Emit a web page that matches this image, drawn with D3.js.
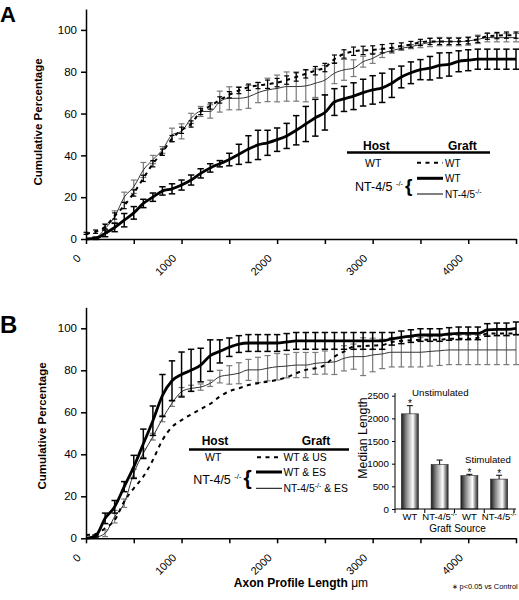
<!DOCTYPE html>
<html><head><meta charset="utf-8">
<script src="https://cdn.jsdelivr.net/npm/d3@7/dist/d3.min.js"></script>
<style>
body{margin:0;background:#fff}
svg{display:block;background:#fff}
text{font-family:"Liberation Sans",Arial,Helvetica,sans-serif;fill:#000}
</style>
</head><body>
<svg id="c" width="519" height="600"></svg>
<script>
// ---------- DATA ----------
const lengths = [0,100,200,300,400,500,600,700,800,900,1000,1100,1200,1300,1400,1500,1600,1700,1800,1900,
  2000,2100,2200,2300,2400,2500,2600,2700,2800,2900,3000,3100,3200,3300,3400,3500,3600,3700,3800,3900,
  4000,4100,4200,4300,4400,4500];
const xTickValues = [0,500,1000,1500,2000,2500,3000,3500,4000,4500];
const xTickLabels = ["0","","1000","","2000","","3000","","4000",""];
const yTickValues = [0,20,40,60,80,100];

// Panel A
const aWTinWT = [2.7,3.5,5.9,11,16,22,29,36,41.5,48,52,55,61,63.6,66.5,69,71,72.6,73.4,74,
  74.8,76,77.5,79,80.5,82,86,88.5,89.8,90.2,90.4,91,91.5,92.3,93,94,94.5,94.5,94.5,94.5,
  94.8,95.5,97,97.3,97.5,97.5];
const aWTinWTErr = [0.5,0.8,1,1.5,1.5,1.5,1.5,1.5,1.5,1.5,1.5,1.5,1.5,1.5,1.5,1.5,1.5,1.5,1.5,2,
  2,2,2,2,2,2,2,2,2,2,2,2,2,1.5,1.5,1.5,1.5,1.5,1.5,1.5,1.5,1.5,1.5,1.5,1.5,1.5];
const aWTinNT = [0,0.3,2.7,5.5,9,12.5,17,20,23,24,25.8,28.2,31.4,34,36,38,40.5,43,45,46,
  47.5,49.3,52,55,58,60.5,65.5,67,68.3,70,71.3,72.3,74.5,77.5,79.5,81,81.7,83,83.5,85,
  85.5,86,86,86,86,86];
const aWTinNTErr = [0,0.5,1.6,2,3.2,3,2,2,2,2.4,2.4,2.4,2.2,2,1.5,3,4.8,6.4,7,6,
  5.6,6,7,8.4,8.8,8.4,6.4,6,6.4,6.4,6.8,7,6.8,5.2,5.2,4.8,5.6,6,5.6,5,
  5,4.8,4.8,4.8,4.8,4.8];
const aNTinNT = [0,0.6,5,10.7,20,25,33,38,42.6,49.8,51.5,57.7,61,61,65.7,67.3,67.3,68,70,71.3,
  72,72.9,72.9,73.2,74.5,76,79.3,80.9,81.7,84.8,86.4,88.8,90.1,91.2,92,93,94,94.4,94.4,94.4,
  94.7,95.5,96.3,96.3,96.3,96.3];
const aNTinNTErr = [0,0.5,2.4,2.8,2.4,3.2,3.6,2,1.6,3.2,3.6,2.4,2.4,3.2,5,5.5,5.5,5.5,4.8,5.6,
  6.4,7,7,7.6,6.8,7,5,5,4,2.6,2.4,2,1.2,1,1,1.5,2,2,2,2,
  2,2,2,2,2,2];

// Panel B
const bWTUS = [1.6,2,4.8,8.7,17.5,23.8,29.4,37.3,46.8,53,56.3,59,61.5,64,67.5,70,71.4,73,73.8,74.6,
  75.4,76.7,78.6,80.2,81,82.5,86.5,88.9,91.3,91.5,91.8,92,93.5,94,94.3,94.5,94.5,94.5,95,95,
  95,95.5,97.5,97.5,97.5,97.6];
const bWTES = [0,1.1,9.5,15,24.6,34,45,56,68,75,78,80,82.5,87,89,91,92.5,93,93,93,
  93,93.5,94,94,94,94,94,94,94,94,94,94,95,95.7,96.3,96.8,96.8,96.8,97.3,97.6,
  97.6,97.6,99.2,99.5,99.5,100];
const bWTESErr = [0,0.5,2.5,3,2.4,5.5,7,7,10,9.5,10.7,10,8,7.5,5.5,4.4,4,4,4,4,
  4,4,4,4,4,4,4,4,4,4,4,4,3,3,3,3,3,3,3,3,3,3,3,3,3,3];
const bNTES = [0,0.5,2.4,10.3,16.7,31,40.5,48.4,57,64.3,69.8,71.4,72,73.8,77,77.8,78.6,80.2,80.2,81,
  81.7,82,82.5,82.5,83.3,83.7,84,85.7,86.5,86.5,87.3,87.8,88.6,88.6,88.6,88.6,89,89.3,89.7,89.7,
  89.7,89.7,89.7,89.7,89.7,89.7];
const bNTESErr = [0,0.5,1.6,3,2,2,2,1.6,1.5,1.5,2,1.5,1.5,1.5,3,4.4,5,5,6,6,
  6.3,5.6,6,6,5.2,5.5,6,6,6,9,8,7,7,7,7,7,7,7,7,7,7,7,7,7,7,7];

// Inset
const insetCats = ["WT","NT-4/5","WT","NT-4/5"];
const insetSup = ["","-/-","","-/-"];
const insetValues = [2100,980,735,660];
const insetErr = [180,100,30,85];
const insetSig = [true,false,true,true];
const insetTicks = [0,500,1000,1500,2000,2500];

// ---------- DRAW ----------
const svg = d3.select("#c");
const defs = svg.append("defs");
const grad = defs.append("linearGradient").attr("id","cyl").attr("x1","0").attr("x2","1").attr("y1","0").attr("y2","0");
[["0%","#1a1a1a"],["30%","#8c8c8c"],["68%","#ffffff"],["100%","#262626"]].forEach(s=>
  grad.append("stop").attr("offset",s[0]).attr("stop-color",s[1]));

const xS = d3.scaleLinear().domain([0,4500]).range([86,516]);

function errorBars(g, y, vals, errs, color, w, cap){
  const eg = g.append("g").attr("stroke",color).attr("stroke-width",w).attr("fill","none");
  lengths.forEach((L,i)=>{
    const e = errs[i]; if(!e) return;
    const x = xS(L), y1 = y(vals[i]-e), y2 = y(vals[i]+e);
    eg.append("line").attr("x1",x).attr("x2",x).attr("y1",y1).attr("y2",y2);
    eg.append("line").attr("x1",x-cap).attr("x2",x+cap).attr("y1",y1).attr("y2",y1);
    eg.append("line").attr("x1",x-cap).attr("x2",x+cap).attr("y1",y2).attr("y2",y2);
  });
}
function curve(g, y, vals, color, w, dash){
  const line = d3.line().x((d,i)=>xS(lengths[i])).y(d=>y(d)).curve(d3.curveMonotoneX);
  const p = g.append("path").datum(vals).attr("d",line).attr("fill","none")
    .attr("stroke",color).attr("stroke-width",w).attr("stroke-linejoin","round");
  if(dash) p.attr("stroke-dasharray",dash);
}
function axes(g, y, y0){
  const ya = g.append("g").attr("transform","translate(86,0)")
    .call(d3.axisLeft(y).tickValues(yTickValues).tickSize(5).tickSizeOuter(0).tickPadding(4));
  ya.selectAll("text").attr("font-size","11.5px").attr("font-family",null);
  const xa = g.append("g").attr("transform",`translate(0,${y0})`)
    .call(d3.axisBottom(xS).tickValues(xTickValues).tickSize(5).tickSizeOuter(0)
      .tickFormat((d,i)=>xTickLabels[i]));
  xa.selectAll("text").attr("font-size","11px").attr("font-family",null)
    .attr("x",0).attr("y",0).attr("dy",0).attr("text-anchor","end")
    .attr("transform","translate(-5,20) rotate(-45)");
  [ya,xa].forEach(a=>{a.selectAll("path,line").attr("stroke","#000").attr("stroke-width",1.5);});
}
function txt(g, x, y, parts, size, opts={}){
  const t = g.append("text").attr("x",x).attr("y",y).attr("font-size",size+"px");
  if(opts.bold) t.attr("font-weight","bold");
  if(opts.anchor) t.attr("text-anchor",opts.anchor);
  if(opts.transform) t.attr("transform",opts.transform);
  let up = false;
  parts.forEach(p=>{
    if(typeof p === "string"){
      const s = t.append("tspan").text(p);
      if(up){ s.attr("dy", size*0.38); up=false; }
    } else {
      t.append("tspan").text(p.sup).attr("font-size",(p.size||size*0.65)+"px").attr("dy",-size*0.38);
      up = true;
    }
  });
  return t;
}
function hline(g,x1,x2,y,w,dash){
  const l = g.append("line").attr("x1",x1).attr("x2",x2).attr("y1",y).attr("y2",y)
    .attr("stroke","#000").attr("stroke-width",w);
  if(dash) l.attr("stroke-dasharray",dash);
}

// ---- Panel A ----
const yA = d3.scaleLinear().domain([0,110]).range([239,9]);
const gA = svg.append("g");
errorBars(gA, yA, aNTinNT, aNTinNTErr, "#7a7a7a", 1.2, 3);
curve(gA, yA, aNTinNT, "#333", 1);
errorBars(gA, yA, aWTinWT, aWTinWTErr, "#000", 1.2, 2.5);
curve(gA, yA, aWTinWT, "#000", 2, "4,4.5");
errorBars(gA, yA, aWTinNT, aWTinNTErr, "#000", 1.5, 3.2);
curve(gA, yA, aWTinNT, "#000", 2.8);
axes(gA, yA, 239);
txt(gA, 0, 22, ["A"], 22, {bold:true});
txt(gA, 0, 0, ["Cumulative Percentage"], 11.5, {bold:true, anchor:"middle", transform:"translate(42,122) rotate(-90)"});
// legend A
txt(gA, 363, 150, ["Host"], 12, {bold:true});
txt(gA, 448, 150, ["Graft"], 12, {bold:true});
hline(gA, 347, 490, 152.5, 2.5);
txt(gA, 365, 166.5, ["WT"], 10.5);
hline(gA, 417, 443, 162.7, 2, "4,4.5");
txt(gA, 445, 166.5, ["WT"], 10);
txt(gA, 355, 190.5, ["NT-4/5 ",{sup:"-/-",size:7.5}], 12.5);
txt(gA, 405, 192, ["{"], 19, {bold:true});
hline(gA, 417, 443, 178.3, 3);
txt(gA, 445, 182, ["WT"], 10);
hline(gA, 417, 443, 194, 1);
txt(gA, 445, 197.5, ["NT-4/5",{sup:"-/-",size:7}], 10);

// ---- Panel B ----
const yB = d3.scaleLinear().domain([0,110]).range([538.3,307.3]);
const gB = svg.append("g");
errorBars(gB, yB, bNTES, bNTESErr, "#7a7a7a", 1.2, 3);
curve(gB, yB, bNTES, "#333", 1);
curve(gB, yB, bWTUS, "#000", 2, "4,4.5");
errorBars(gB, yB, bWTES, bWTESErr, "#000", 1.5, 3.2);
curve(gB, yB, bWTES, "#000", 2.8);
axes(gB, yB, 538.3);
txt(gB, 0, 333, ["B"], 24, {bold:true});
txt(gB, 0, 0, ["Cumulative Percentage"], 11.5, {bold:true, anchor:"middle", transform:"translate(46,426) rotate(-90)"});
const axT = gB.append("text").attr("x",301).attr("y",587).attr("text-anchor","middle").attr("font-size","12px");
axT.append("tspan").attr("font-weight","bold").text("Axon Profile Length ");
axT.append("tspan").text("\u03BCm");
txt(gB, 451.5, 588.5, ["\u2217 p<0.05 vs Control"], 7.4);
// legend B
txt(gB, 201.7, 445, ["Host"], 12, {bold:true});
txt(gB, 301.7, 445, ["Graft"], 12, {bold:true});
hline(gB, 189, 349, 449.5, 2.5);
txt(gB, 205, 461, ["WT"], 10.5);
hline(gB, 257, 282, 457.3, 2, "4,4.5");
txt(gB, 283.5, 461, ["WT & US"], 10.4);
txt(gB, 193.3, 484, ["NT-4/5 ",{sup:"-/-",size:7.5}], 12.5);
txt(gB, 243.5, 484.5, ["{"], 21, {bold:true});
hline(gB, 256, 282, 472, 3);
txt(gB, 283.5, 475.5, ["WT & ES"], 10.4);
hline(gB, 256, 282, 488.3, 1);
txt(gB, 283.5, 491.5, ["NT-4/5",{sup:"-/-",size:7}," & ES"], 10.4);

// ---- Inset bar chart ----
const gI = svg.append("g");
const yI = d3.scaleLinear().domain([0,2500]).range([509,395.7]);
const xI = d3.scaleBand().domain(d3.range(insetCats.length)).range([395,514]).padding(0);
const bw = 17;
insetValues.forEach((v,i)=>{
  const cx = xI(i) + xI.bandwidth()/2;
  gI.append("rect").attr("x",cx-bw/2).attr("y",yI(v)).attr("width",bw).attr("height",yI(0)-yI(v))
    .attr("fill","url(#cyl)").attr("stroke","#222").attr("stroke-width",0.6);
  const top = yI(v+insetErr[i]);
  gI.append("line").attr("x1",cx).attr("x2",cx).attr("y1",yI(v)).attr("y2",top).attr("stroke","#000").attr("stroke-width",1);
  gI.append("line").attr("x1",cx-3).attr("x2",cx+3).attr("y1",top).attr("y2",top).attr("stroke","#000").attr("stroke-width",1);
  if(insetSig[i]) txt(gI, cx, top+1.8, ["*"], 10, {anchor:"middle"});
  txt(gI, cx, 520, [insetCats[i]].concat(insetSup[i]?[{sup:insetSup[i],size:6.5}]:[]), 9.5, {anchor:"middle"});
});
const yIa = gI.append("g").attr("transform","translate(395,0)")
  .call(d3.axisLeft(yI).tickValues(insetTicks).tickSize(3).tickSizeOuter(0).tickPadding(3).tickFormat(d3.format("d")));
yIa.selectAll("text").attr("font-size","9.8px").attr("font-family",null);
yIa.select(".domain").attr("d","M0,"+yI(0)+"V393");
yIa.selectAll("path,line").attr("stroke","#000").attr("stroke-width",1);
const xIa = gI.append("g").attr("transform","translate(0,509)");
xIa.append("line").attr("x1",395).attr("x2",516).attr("y1",0).attr("y2",0);
d3.range(insetCats.length+1).forEach(i=>{
  const x = i<insetCats.length ? xI(i) : 514;
  xIa.append("line").attr("x1",x).attr("x2",x).attr("y1",0).attr("y2",4);
});
xIa.selectAll("line").attr("stroke","#000").attr("stroke-width",1);
txt(gI, 412, 395.5, ["Unstimulated"], 9.7);
txt(gI, 465, 462.5, ["Stimulated"], 9.7);
txt(gI, 0, 0, ["Median Length"], 12.3, {anchor:"middle", transform:"translate(367,438) rotate(-90)"});
txt(gI, 457.5, 532, ["Graft Source"], 10, {anchor:"middle"});
</script>
</body></html>
